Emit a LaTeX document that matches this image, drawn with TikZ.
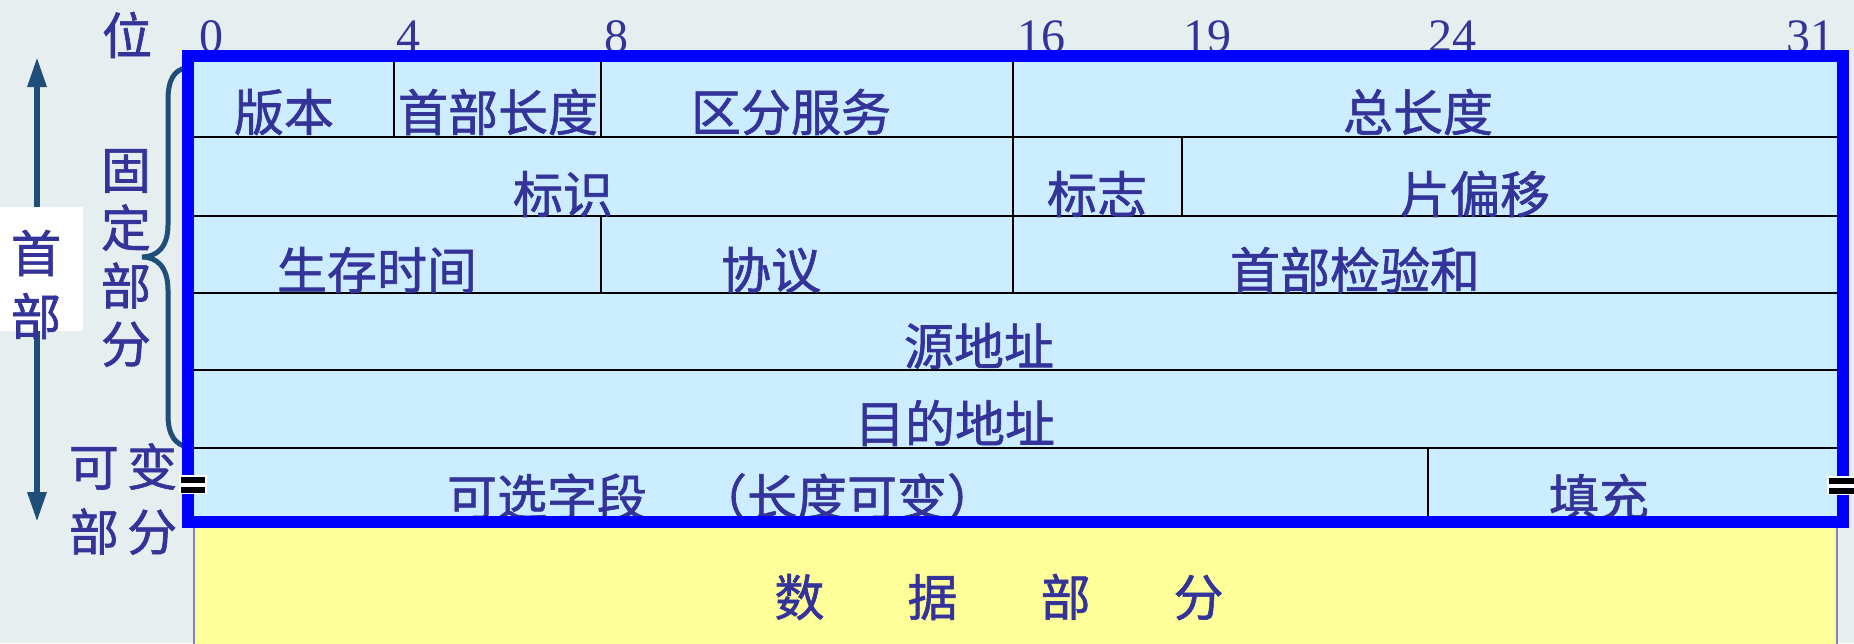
\documentclass[tikz,border=0pt]{standalone}
\usepackage{fontspec}
\setmainfont{Liberation Serif}
\newfontfamily\cjk[FakeBold=1.2]{Noto Sans CJK SC}
\usetikzlibrary{arrows.meta}
\definecolor{bgc}{HTML}{E6EEF0}
\definecolor{cellc}{HTML}{CCECFF}
\definecolor{datac}{HTML}{FFFF99}
\definecolor{framec}{HTML}{0000FF}
\definecolor{textc}{HTML}{333399}
\definecolor{arrowc}{HTML}{1F4E79}
\definecolor{databord}{HTML}{7A86B8}
\tikzset{
  txt/.style={inner sep=0pt, text=textc, font=\cjk\fontsize{50}{50}\selectfont, anchor=center},
  bit/.style={inner sep=0pt, text=textc, font=\fontsize{48}{48}\selectfont, anchor=base},
  gridline/.style={black, line width=2.5pt},
  vback/.style={fill=white},
  vbar/.style={fill=black}
}
\begin{document}
\begin{tikzpicture}[x=1pt,y=-1pt]
\useasboundingbox (0,0) rectangle (1854,643);
\fill[bgc] (0,0) rectangle (1854,643);
% bit labels
\node[txt] (wei) at (127,35) {位};
\node[bit] (b0) at (211,52) {0};
\node[bit] (b4) at (408,52) {4};
\node[bit] (b8) at (616,52) {8};
\node[bit] (b16) at (1041,52) {16};
\node[bit] (b19) at (1207,52) {19};
\node[bit] (b24) at (1452,52) {24};
\node[bit] (b31) at (1810,52) {31};
% header arrow and label
\coordinate (atop) at (37,57);
\coordinate (abot) at (37,522);
\draw[arrowc, line width=6pt, {Triangle[width=18pt,length=30pt]}-{Triangle[width=18pt,length=30pt]}] (atop) -- (abot);
\fill[white] (0,207) rectangle (83,331);
\node[txt] (shou) at (36,253) {首};
\node[txt] (bu) at (36,316) {部};
% fixed / variable labels
\node[txt, align=center, font=\cjk\fontsize{50}{58}\selectfont] (guding) at (126,258) {固\\定\\部\\分};
\node[txt, align=center, font=\cjk\fontsize{50}{65}\selectfont] (kebian) at (123,499) {可\,变\\部\,分};
% brace
\draw[arrowc, line width=5pt] (186,68) .. controls (174,70) and (168,80) .. (168,100) -- (168,225)
  .. controls (168,248) and (156,257) .. (142,257)
  .. controls (156,257) and (168,266) .. (168,290) -- (168,415)
  .. controls (168,436) and (176,445) .. (188,447);
% cells
\fill[cellc] (188,56) rectangle (1843,522);
\draw[databord, line width=1.5pt, fill=datac] (194,522) rectangle (1837,650);
\draw[gridline] (188,137) -- (1843,137);
\draw[gridline] (188,216) -- (1843,216);
\draw[gridline] (188,293) -- (1843,293);
\draw[gridline] (188,370) -- (1843,370);
\draw[gridline] (188,448) -- (1843,448);
\draw[gridline] (394,56) -- (394,137);
\draw[gridline] (601,56) -- (601,137);
\draw[gridline] (601,216) -- (601,293);
\draw[gridline] (1013,56) -- (1013,293);
\draw[gridline] (1182,137) -- (1182,216);
\draw[gridline] (1428,448) -- (1428,522);
% texts
\node[txt] (version) at (284,112) {版本};
\node[txt] (hlen) at (498,112) {首部长度};
\node[txt] (ds) at (791,112) {区分服务};
\node[txt] (tlen) at (1418,112) {总长度};
\node[txt] (ident) at (563,194) {标识};
\node[txt] (flags) at (1097,194) {标志};
\node[txt] (frag) at (1475,194) {片偏移};
\node[txt] (ttl) at (377,270) {生存时间};
\node[txt] (proto) at (771,270) {协议};
\node[txt] (csum) at (1355,270) {首部检验和};
\node[txt] (src) at (979,346) {源地址};
\node[txt] (dst) at (955,423) {目的地址};
\node[txt] (opt) at (722,497) {可选字段　（长度可变）};
\node[txt] (pad) at (1599,497) {填充};
\node[txt] (data) at (999,597) {数\hspace{83pt}据\hspace{83pt}部\hspace{83pt}分};
% blue frame
\draw[framec, line width=12pt] (188,56) rectangle (1843,522);
% variable marks
\fill[vback] (179,475) rectangle (207,494);
\fill[vbar] (181,477) rectangle (205,482.5);
\fill[vbar] (181,487) rectangle (205,492.5);
\fill[vback] (1827,476) rectangle (1856,495);
\fill[vbar] (1829,478) rectangle (1856,483.5);
\fill[vbar] (1829,488) rectangle (1856,493.5);
\end{tikzpicture}
\end{document}
